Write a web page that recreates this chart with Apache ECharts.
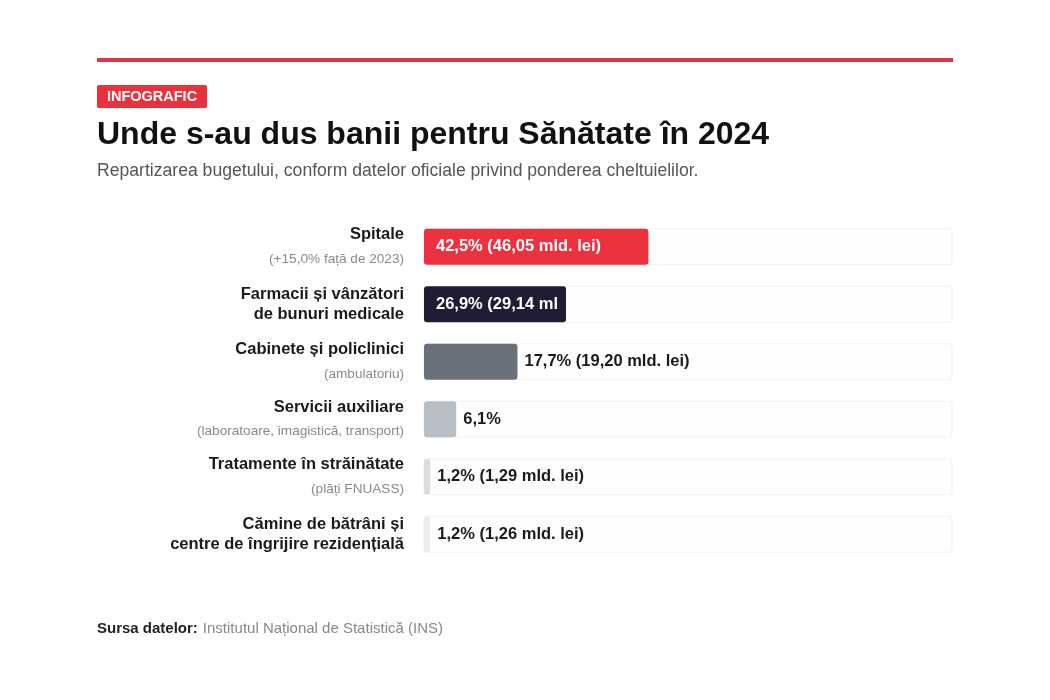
<!DOCTYPE html>
<html>
<head>
<meta charset="utf-8">
<script src="https://cdn.jsdelivr.net/npm/echarts@6/dist/echarts.min.js"></script>
<style>
  html, body { margin: 0; padding: 0; background: #fff; }
  #chart { width: 1050px; height: 700px; }
</style>
</head>
<body>
<div id="chart"></div>
<script>
// date: ponderea cheltuielilor pentru sanatate 2024
var categories = ['Spitale', 'Farmacii și vânzători\nde bunuri medicale', 'Cabinete și policlinici',
  'Servicii auxiliare', 'Tratamente în străinătate', 'Cămine de bătrâni și\ncentre de îngrijire rezidențială'];
var notes = ['(+15,0% față de 2023)', '', '(ambulatoriu)', '(laboratoare, imagistică, transport)', '(plăți FNUASS)', ''];
var shares = [42.5, 26.9, 17.7, 6.1, 1.2, 1.2];
var amounts = [46.05, 29.14, 19.20, null, 1.29, 1.26];
var colors = ['#ec323f', '#1f1d36', '#6b7178', '#b8bec4', '#dcdcdc', '#ececec'];
var insideBar = [true, true, false, false, false, false];

var FONT = '"Liberation Sans", Arial, Helvetica, sans-serif';
var gridLeft = 424, gridRight = 98;
var plotW = 1050 - gridLeft - gridRight;

function fmt(v, d) {
  return v.toFixed(d).replace('.', ',');
}

var seriesData = [];
for (var i = 0; i < shares.length; i++) {
  var txt = fmt(shares[i], 1) + '%';
  if (amounts[i] != null) txt += ' (' + fmt(amounts[i], 2) + ' mld. lei)';
  var lbl;
  if (insideBar[i]) {
    lbl = {
      position: 'insideLeft', distance: 12, color: '#fff',
      width: plotW * shares[i] / 100 - 12, overflow: 'truncate', ellipsis: '',
      formatter: txt
    };
  } else {
    lbl = { position: 'right', distance: 7, color: '#1a1a1a', formatter: txt };
  }
  seriesData.push({
    value: shares[i],
    itemStyle: { color: colors[i] },
    label: lbl
  });
}

var myChart = echarts.init(document.getElementById('chart'));
var option = {
  backgroundColor: '#fff',
  animation: false,
  title: [
    {
      text: 'Unde s-au dus banii pentru Sănătate în 2024',
      left: 97, top: 119, padding: 0,
      textStyle: { fontFamily: FONT, fontSize: 32, fontWeight: 'bold', color: '#111' }
    },
    {
      text: 'Repartizarea bugetului, conform datelor oficiale privind ponderea cheltuielilor.',
      left: 97, top: 162, padding: 0,
      textStyle: { fontFamily: FONT, fontSize: 17.6, fontWeight: 'normal', color: '#555' }
    },
    {
      text: '{b|Sursa datelor:} {g|Institutul Național de Statistică (INS)}',
      left: 97, top: 620, padding: 0,
      textStyle: {
        rich: {
          b: { fontFamily: FONT, fontSize: 15, fontWeight: 'bold', color: '#222' },
          g: { fontFamily: FONT, fontSize: 15, fontWeight: 'normal', color: '#888' }
        }
      }
    }
  ],
  graphic: [
    { type: 'rect', shape: { x: 97, y: 58, width: 856, height: 4 }, style: { fill: '#e03442' } },
    { type: 'rect', shape: { x: 97, y: 85, width: 110, height: 23, r: 2 }, style: { fill: '#e8333f' } },
    {
      type: 'text', x: 152, y: 96.5,
      style: {
        text: 'INFOGRAFIC', fill: '#fff', font: 'bold 14.5px ' + FONT,
        textAlign: 'center', textVerticalAlign: 'middle'
      }
    }
  ],
  grid: { left: gridLeft, right: gridRight, top: 218, bottom: 137 },
  xAxis: {
    type: 'value', min: 0, max: 100, show: false
  },
  yAxis: {
    type: 'category',
    inverse: true,
    data: categories,
    axisLine: { show: false },
    axisTick: { show: false },
    axisLabel: {
      margin: 20,
      align: 'right',
      formatter: function (v, idx) {
        if (notes[idx]) return '{n|' + v + '}\n{s|' + notes[idx] + '}';
        return v.split('\n').map(function (l) { return '{m|' + l + '}'; }).join('\n');
      },
      rich: {
        n: { fontFamily: FONT, fontSize: 16.5, fontWeight: 'bold', color: '#1a1a1a', lineHeight: 24, align: 'right' },
        s: { fontFamily: FONT, fontSize: 13.6, color: '#8a8a8a', lineHeight: 24, align: 'right' },
        m: { fontFamily: FONT, fontSize: 16.5, fontWeight: 'bold', color: '#1a1a1a', lineHeight: 20, align: 'right' }
      }
    }
  },
  series: [
    {
      type: 'bar',
      barWidth: 36,
      data: seriesData,
      showBackground: true,
      backgroundStyle: { color: '#fefefe', borderColor: '#f1f1f1', borderWidth: 1, borderRadius: 3 },
      itemStyle: { borderRadius: 3 },
      label: {
        show: true,
        fontFamily: FONT, fontSize: 16.5, fontWeight: 'bold'
      }
    }
  ]
};
myChart.setOption(option);
</script>
</body>
</html>
